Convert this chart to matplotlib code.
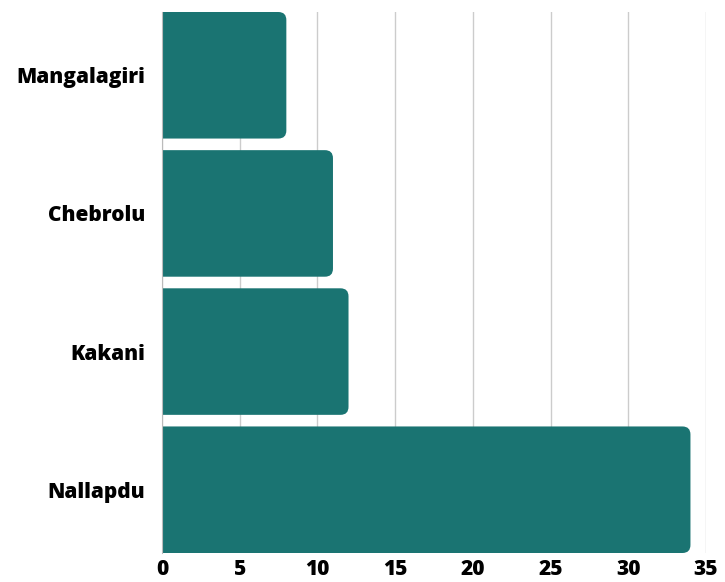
import matplotlib
matplotlib.use("Agg")
import matplotlib.pyplot as plt
from matplotlib.patches import FancyBboxPatch

# data
places = ["Mangalagiri", "Chebrolu", "Kakani", "Nallapdu"]
counts = [8, 11, 12, 34]
xticks = [0, 5, 10, 15, 20, 25, 30, 35]

plt.rcParams["font.family"] = ["Open Sans", "DejaVu Sans"]

W, H = 725, 582
fig = plt.figure(figsize=(W / 100, H / 100), dpi=100)
ax = fig.add_axes([162 / W, 1 - 553 / H, (706 - 162) / W, (553 - 12) / H])

bar_h = 0.916
teal = "#1a7472"
n = len(places)
ypos = [n - 1 - i for i in range(n)]

# px per data unit, to keep the corners circular
px_x = (706 - 162) / 35
px_y = (553 - 12) / (n - 1 + bar_h)
r_px = 8
rx = r_px / px_x
for y, v in zip(ypos, counts):
    p = FancyBboxPatch((-2, y - bar_h / 2), v + 2, bar_h,
                       boxstyle=f"round,pad=0,rounding_size={rx}",
                       mutation_aspect=px_x / px_y,
                       fc=teal, ec="none", zorder=3, clip_on=True)
    ax.add_patch(p)

ax.set_xlim(0, 35)
ax.set_ylim(-bar_h / 2, n - 1 + bar_h / 2)
ax.set_yticks(ypos)
ax.set_yticklabels(places, fontsize=15, fontweight=800)
ax.set_xticks(xticks)
ax.set_xticklabels([str(t) for t in xticks], fontsize=15, fontweight=800)
ax.tick_params(length=0)
ax.tick_params(axis="y", pad=12)
ax.tick_params(axis="x", pad=4)
ax.grid(axis="x", color="#cccccc", lw=1, zorder=0)
for s in ["top", "right", "bottom"]:
    ax.spines[s].set_visible(False)
ax.spines["left"].set_color("#bbbbbb")
ax.spines["left"].set_zorder(4)

fig.savefig("out.png", dpi=100)
